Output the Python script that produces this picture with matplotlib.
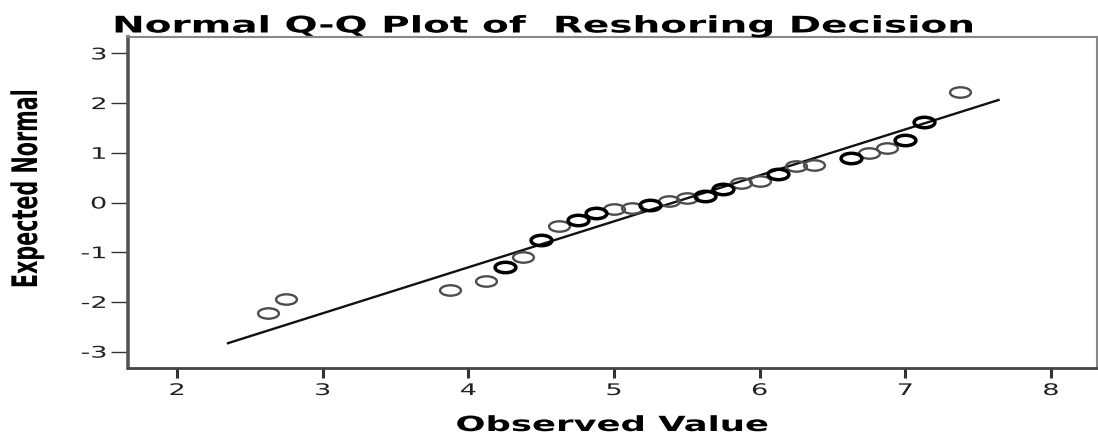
import numpy as np
import matplotlib
matplotlib.use("Agg")
import matplotlib.pyplot as plt
from matplotlib.path import Path
from matplotlib.patheffects import AbstractPathEffect
from matplotlib.transforms import Affine2D

# observed scores (steps of 1/8) and their expected normal values
observed = [2.625, 2.75, 3.875, 4.125, 4.25, 4.375, 4.5, 4.625, 4.75, 4.875,
            5.0, 5.125, 5.25, 5.375, 5.5, 5.625, 5.75, 5.875, 6.0, 6.125,
            6.25, 6.375, 6.625, 6.75, 6.875, 7.0, 7.125, 7.375]
expected = [-2.23, -1.94, -1.76, -1.57, -1.30, -1.10, -0.75, -0.48, -0.345, -0.22,
            -0.14, -0.11, -0.05, 0.04, 0.09, 0.14, 0.28, 0.395, 0.44, 0.58,
            0.73, 0.76, 0.90, 1.00, 1.10, 1.25, 1.62, 2.22]
# tied scores get drawn over each other and look heavier
tied = [0, 0, 0, 0, 1, 0, 1, 0, 1, 1,
        0, 0, 1, 0, 0, 1, 1, 0, 0, 1,
        0, 0, 1, 0, 0, 1, 1, 0]

# reference line: (x - mean) / sd
line_x = [2.35, 7.64]
obs_mean = 5.41
obs_sd = 1.081

x_ticks = [2, 3, 4, 5, 6, 7, 8]
y_ticks = [-3, -2, -1, 0, 1, 2, 3]

SX = 1.7   # horizontal stretch of the lettering


class Widen(AbstractPathEffect):
    # draws the text path stretched sideways around an anchor
    def __init__(self, sx=SX, anchor="center"):
        super().__init__()
        self.sx = sx
        self.anchor = anchor

    def draw_path(self, renderer, gc, tpath, affine, rgbFace=None):
        ext = tpath.transformed(affine).get_extents()
        if self.anchor == "right":
            cx = ext.x1
        elif self.anchor == "left":
            cx = ext.x0
        else:
            cx = (ext.x0 + ext.x1) / 2
        t = affine + Affine2D().translate(-cx, 0).scale(self.sx, 1).translate(cx, 0)
        renderer.draw_path(gc, tpath, t, rgbFace)


plt.rcParams["font.family"] = ["DejaVu Sans"]
plt.rcParams["axes.unicode_minus"] = False

W, H = 1098, 434
fig = plt.figure(figsize=(W / 100, H / 100), dpi=100)
ax = fig.add_axes([128 / W, 1 - 368 / H, (1097 - 128) / W, (368 - 37) / H])

# flat ellipse marker
circ = Path.unit_circle()
ring = Path(circ.vertices * np.array([1.0, 0.5]), circ.codes)

obs = np.array(observed)
exp_ = np.array(expected)
tie = np.array(tied, dtype=bool)

lx = np.array(line_x)
ax.plot(lx, (lx - obs_mean) / obs_sd, color="#111111", lw=1.7, zorder=2)

ax.plot(obs[~tie], exp_[~tie], ls="none", marker=ring, ms=15,
        mfc="none", mec="#4d4d4d", mew=1.7, zorder=3)
ax.plot(obs[tie], exp_[tie], ls="none", marker=ring, ms=15,
        mfc="none", mec="#000000", mew=2.5, zorder=3)

ax.set_xlim(1.664, 8.316)
ax.set_ylim(-3.33, 3.33)
ax.set_xticks(x_ticks)
ax.set_yticks(y_ticks)

ax.spines["left"].set_linewidth(2.6)
ax.spines["left"].set_color("#555555")
ax.spines["bottom"].set_linewidth(2.0)
ax.spines["bottom"].set_color("#444444")
for s in ("top", "right"):
    ax.spines[s].set_linewidth(1.5)
    ax.spines[s].set_color("#888888")

ax.tick_params(axis="x", direction="out", length=7.2, width=2.2, color="#333333",
               pad=3.6, labelsize=11.5, labelcolor="#222222")
ax.tick_params(axis="y", direction="out", length=12, width=1.0, color="#333333",
               pad=3.5, labelsize=11.5, labelcolor="#222222")

for lab in ax.get_xticklabels():
    lab.set_path_effects([Widen(SX, "center")])
for lab in ax.get_yticklabels():
    lab.set_path_effects([Widen(SX, "right")])

ax.set_xlabel("Observed Value", fontsize=15, fontweight="bold", va="baseline",
              path_effects=[Widen(SX)])
ax.xaxis.set_label_coords(0.5, (368 - 431) / 331)
ax.set_ylabel("Expected Normal", fontsize=14.9, fontweight="bold", va="center",
              path_effects=[Widen(SX)])
ax.yaxis.set_label_coords((27 - 128) / 969, (368 - 189) / 331)

fig.text(543 / W, 1 - 32.5 / H, "Normal Q-Q Plot of  Reshoring Decision",
         ha="center", va="baseline", fontsize=16.5, fontweight="bold",
         path_effects=[Widen(SX)])

fig.savefig("out.png", dpi=100)
